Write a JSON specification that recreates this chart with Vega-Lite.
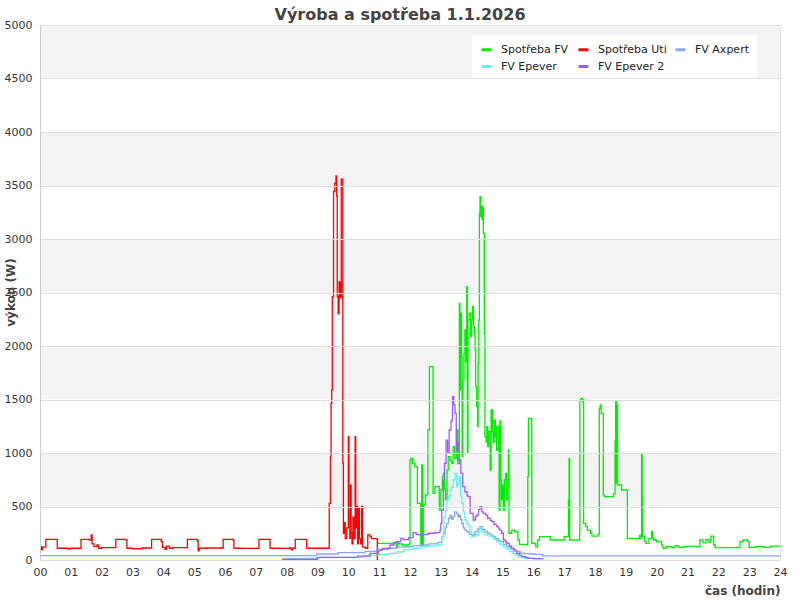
{
"$schema":"https://vega.github.io/schema/vega-lite/v6.json",
"width":740,"height":535,"autosize":"none",
"padding":{"left":40,"top":25,"right":20,"bottom":40},
"background":"white",
"title":{"text":"Výroba a spotřeba 1.1.2026","font":"DejaVu Sans","fontSize":16,"fontWeight":"bold","color":"#444444","anchor":"middle","frame":"group","offset":-4,"dx":-10},
"config":{"view":{"stroke":"#dddddd"},
"axis":{"labelFont":"DejaVu Sans","labelFontSize":11,"labelColor":"#333333","titleFont":"DejaVu Sans","titleFontSize":12,"titleFontWeight":"bold","titleColor":"#444444","ticks":false,"domainColor":"#cccccc","gridColor":"#dddddd"},
"legend":{"labelFont":"DejaVu Sans","labelFontSize":11,"labelColor":"#222222"}},
"datasets":{
"bands":[{"lo":500,"hi":1000},{"lo":1500,"hi":2000},{"lo":2500,"hi":3000},{"lo":3500,"hi":4000},{"lo":4500,"hi":5000}],
"fv":[{"t":10.92,"v":187},{"t":10.95,"v":156},{"t":11.5,"v":150},{"t":11.56,"v":124},{"t":11.6,"v":160},{"t":11.65,"v":150},{"t":11.75,"v":140},{"t":11.97,"v":150},{"t":12.0,"v":935},{"t":12.03,"v":950},{"t":12.08,"v":904},{"t":12.15,"v":872},{"t":12.24,"v":530},{"t":12.33,"v":530},{"t":12.35,"v":140},{"t":12.38,"v":888},{"t":12.41,"v":140},{"t":12.43,"v":514},{"t":12.5,"v":608},{"t":12.58,"v":1215},{"t":12.63,"v":1807},{"t":12.75,"v":623},{"t":12.81,"v":685},{"t":12.95,"v":467},{"t":13.0,"v":654},{"t":13.05,"v":779},{"t":13.08,"v":810},{"t":13.12,"v":660},{"t":13.15,"v":561},{"t":13.2,"v":841},{"t":13.24,"v":966},{"t":13.3,"v":930},{"t":13.35,"v":904},{"t":13.4,"v":1059},{"t":13.45,"v":950},{"t":13.51,"v":1215},{"t":13.55,"v":900},{"t":13.6,"v":2399},{"t":13.62,"v":1589},{"t":13.64,"v":2306},{"t":13.67,"v":1900},{"t":13.69,"v":966},{"t":13.71,"v":1682},{"t":13.75,"v":1932},{"t":13.78,"v":2150},{"t":13.81,"v":1850},{"t":13.84,"v":2554},{"t":13.86,"v":1000},{"t":13.88,"v":2243},{"t":13.92,"v":2306},{"t":13.97,"v":2087},{"t":14.0,"v":2243},{"t":14.03,"v":2368},{"t":14.06,"v":2181},{"t":14.09,"v":2119},{"t":14.11,"v":1963},{"t":14.13,"v":1620},{"t":14.16,"v":1433},{"t":14.19,"v":1246},{"t":14.21,"v":1838},{"t":14.23,"v":2243},{"t":14.25,"v":3240},{"t":14.27,"v":3396},{"t":14.29,"v":3209},{"t":14.32,"v":3303},{"t":14.34,"v":3178},{"t":14.36,"v":3300},{"t":14.38,"v":3053},{"t":14.41,"v":2119},{"t":14.43,"v":1152},{"t":14.47,"v":1100},{"t":14.49,"v":1246},{"t":14.52,"v":1059},{"t":14.55,"v":1200},{"t":14.6,"v":841},{"t":14.63,"v":1402},{"t":14.67,"v":1200},{"t":14.7,"v":1100},{"t":14.73,"v":1308},{"t":14.77,"v":1150},{"t":14.79,"v":1250},{"t":14.81,"v":1028},{"t":14.85,"v":1050},{"t":14.87,"v":1250},{"t":14.89,"v":467},{"t":14.92,"v":1300},{"t":14.94,"v":748},{"t":14.97,"v":561},{"t":15.0,"v":700},{"t":15.03,"v":467},{"t":15.06,"v":748},{"t":15.1,"v":810},{"t":15.13,"v":561},{"t":15.16,"v":654},{"t":15.19,"v":1028},{"t":15.21,"v":250},{"t":15.3,"v":280},{"t":15.4,"v":265},{"t":15.5,"v":187},{"t":15.55,"v":146},{"t":15.8,"v":140},{"t":15.82,"v":779},{"t":15.84,"v":1324},{"t":15.95,"v":156},{"t":16.05,"v":150},{"t":16.08,"v":124},{"t":16.14,"v":187},{"t":16.2,"v":218},{"t":16.5,"v":218},{"t":16.55,"v":187},{"t":16.9,"v":187},{"t":17.0,"v":218},{"t":17.14,"v":561},{"t":17.16,"v":950},{"t":17.18,"v":187},{"t":17.45,"v":187},{"t":17.5,"v":265},{"t":17.51,"v":1495},{"t":17.55,"v":1511},{"t":17.6,"v":1480},{"t":17.63,"v":343},{"t":17.7,"v":311},{"t":17.75,"v":280},{"t":17.85,"v":250},{"t":17.9,"v":224},{"t":18.1,"v":240},{"t":18.14,"v":1418},{"t":18.17,"v":1449},{"t":18.2,"v":1371},{"t":18.27,"v":608},{"t":18.3,"v":592},{"t":18.5,"v":592},{"t":18.6,"v":620},{"t":18.65,"v":1121},{"t":18.67,"v":1480},{"t":18.69,"v":717},{"t":18.71,"v":1450},{"t":18.73,"v":701},{"t":18.86,"v":654},{"t":19.05,"v":203},{"t":19.4,"v":203},{"t":19.45,"v":230},{"t":19.5,"v":203},{"t":19.51,"v":997},{"t":19.53,"v":592},{"t":19.55,"v":220},{"t":19.6,"v":171},{"t":19.65,"v":156},{"t":19.75,"v":200},{"t":19.83,"v":265},{"t":19.86,"v":210},{"t":19.9,"v":187},{"t":20.0,"v":170},{"t":20.16,"v":140},{"t":20.2,"v":109},{"t":20.3,"v":124},{"t":20.5,"v":115},{"t":20.6,"v":135},{"t":20.7,"v":118},{"t":20.9,"v":124},{"t":21.0,"v":130},{"t":21.3,"v":124},{"t":21.4,"v":187},{"t":21.5,"v":160},{"t":21.6,"v":190},{"t":21.7,"v":165},{"t":21.76,"v":224},{"t":21.85,"v":140},{"t":21.9,"v":115},{"t":22.7,"v":171},{"t":22.8,"v":187},{"t":22.95,"v":171},{"t":23.0,"v":118},{"t":23.2,"v":124},{"t":23.5,"v":118},{"t":23.7,"v":130},{"t":24.0,"v":124}],
"uti":[{"t":0,"v":125},{"t":0.05,"v":95},{"t":0.08,"v":120},{"t":0.19,"v":193},{"t":0.56,"v":110},{"t":0.9,"v":105},{"t":1.0,"v":110},{"t":1.33,"v":193},{"t":1.6,"v":185},{"t":1.66,"v":235},{"t":1.69,"v":150},{"t":1.75,"v":125},{"t":1.85,"v":140},{"t":1.9,"v":110},{"t":2.0,"v":115},{"t":2.46,"v":193},{"t":2.78,"v":185},{"t":2.82,"v":110},{"t":3.0,"v":105},{"t":3.3,"v":112},{"t":3.62,"v":193},{"t":3.93,"v":175},{"t":3.97,"v":118},{"t":4.05,"v":100},{"t":4.1,"v":130},{"t":4.2,"v":110},{"t":4.3,"v":115},{"t":4.78,"v":193},{"t":5.1,"v":180},{"t":5.13,"v":85},{"t":5.16,"v":110},{"t":5.4,"v":112},{"t":5.94,"v":193},{"t":6.27,"v":180},{"t":6.29,"v":110},{"t":6.5,"v":108},{"t":7.1,"v":193},{"t":7.46,"v":110},{"t":7.8,"v":108},{"t":8.1,"v":112},{"t":8.15,"v":95},{"t":8.2,"v":110},{"t":8.28,"v":193},{"t":8.65,"v":110},{"t":9.38,"v":530},{"t":9.42,"v":966},{"t":9.44,"v":1465},{"t":9.46,"v":1590},{"t":9.48,"v":2462},{"t":9.52,"v":3444},{"t":9.56,"v":3522},{"t":9.6,"v":3590},{"t":9.62,"v":3400},{"t":9.64,"v":2462},{"t":9.67,"v":2300},{"t":9.7,"v":2600},{"t":9.73,"v":2450},{"t":9.77,"v":3560},{"t":9.82,"v":907},{"t":9.84,"v":250},{"t":9.87,"v":350},{"t":9.9,"v":200},{"t":9.95,"v":300},{"t":10.0,"v":1153},{"t":10.02,"v":400},{"t":10.05,"v":200},{"t":10.07,"v":700},{"t":10.09,"v":250},{"t":10.12,"v":150},{"t":10.15,"v":400},{"t":10.18,"v":200},{"t":10.22,"v":1153},{"t":10.24,"v":300},{"t":10.27,"v":500},{"t":10.3,"v":150},{"t":10.33,"v":480},{"t":10.36,"v":200},{"t":10.4,"v":150},{"t":10.43,"v":500},{"t":10.46,"v":120},{"t":10.55,"v":110},{"t":10.63,"v":234},{"t":10.7,"v":220},{"t":10.75,"v":200},{"t":10.94,"v":0},{"t":10.97,"v":0}],
"ax":[{"t":0,"v":40},{"t":8.97,"v":56},{"t":9.67,"v":68},{"t":10.54,"v":81},{"t":10.92,"v":100},{"t":11.3,"v":110},{"t":11.57,"v":120},{"t":11.82,"v":124},{"t":12.1,"v":135},{"t":12.35,"v":140},{"t":12.6,"v":150},{"t":12.89,"v":165},{"t":13.03,"v":218},{"t":13.08,"v":250},{"t":13.14,"v":300},{"t":13.19,"v":343},{"t":13.25,"v":390},{"t":13.3,"v":420},{"t":13.35,"v":380},{"t":13.4,"v":405},{"t":13.45,"v":450},{"t":13.51,"v":436},{"t":13.56,"v":400},{"t":13.6,"v":420},{"t":13.64,"v":380},{"t":13.68,"v":343},{"t":13.73,"v":300},{"t":13.78,"v":280},{"t":13.84,"v":265},{"t":13.92,"v":240},{"t":14.0,"v":218},{"t":14.05,"v":240},{"t":14.11,"v":265},{"t":14.2,"v":290},{"t":14.27,"v":311},{"t":14.35,"v":285},{"t":14.43,"v":265},{"t":14.52,"v":250},{"t":14.6,"v":234},{"t":14.68,"v":218},{"t":14.76,"v":203},{"t":14.85,"v":185},{"t":14.92,"v":171},{"t":15.03,"v":145},{"t":15.14,"v":124},{"t":15.25,"v":105},{"t":15.35,"v":93},{"t":15.46,"v":78},{"t":15.57,"v":65},{"t":15.7,"v":60},{"t":15.89,"v":56},{"t":16.05,"v":52},{"t":16.2,"v":50},{"t":16.3,"v":38},{"t":24,"v":38}],
"ep":[{"t":8.0,"v":15},{"t":8.65,"v":18},{"t":9.08,"v":25},{"t":10.5,"v":44},{"t":11.0,"v":50},{"t":11.27,"v":56},{"t":11.35,"v":62},{"t":11.55,"v":75},{"t":11.78,"v":87},{"t":11.82,"v":100},{"t":12.1,"v":110},{"t":12.35,"v":124},{"t":12.6,"v":130},{"t":12.89,"v":140},{"t":13.03,"v":218},{"t":13.1,"v":400},{"t":13.14,"v":467},{"t":13.19,"v":561},{"t":13.25,"v":600},{"t":13.3,"v":654},{"t":13.35,"v":680},{"t":13.4,"v":748},{"t":13.46,"v":810},{"t":13.51,"v":685},{"t":13.55,"v":720},{"t":13.6,"v":779},{"t":13.64,"v":600},{"t":13.68,"v":530},{"t":13.73,"v":450},{"t":13.78,"v":374},{"t":13.84,"v":340},{"t":13.89,"v":311},{"t":13.95,"v":260},{"t":14.0,"v":218},{"t":14.08,"v":225},{"t":14.16,"v":234},{"t":14.22,"v":270},{"t":14.27,"v":296},{"t":14.33,"v":260},{"t":14.43,"v":234},{"t":14.52,"v":225},{"t":14.6,"v":218},{"t":14.7,"v":195},{"t":14.81,"v":171},{"t":14.92,"v":145},{"t":15.03,"v":124},{"t":15.14,"v":100},{"t":15.24,"v":78},{"t":15.33,"v":60},{"t":15.41,"v":47},{"t":15.51,"v":25},{"t":15.7,"v":15},{"t":16.0,"v":10},{"t":16.35,"v":8}],
"ep2":[{"t":7.84,"v":7},{"t":9.0,"v":25},{"t":10.3,"v":37},{"t":10.7,"v":62},{"t":10.97,"v":78},{"t":11.0,"v":93},{"t":11.1,"v":109},{"t":11.35,"v":140},{"t":11.47,"v":162},{"t":11.56,"v":171},{"t":11.7,"v":203},{"t":11.78,"v":190},{"t":11.95,"v":210},{"t":12.1,"v":255},{"t":12.2,"v":240},{"t":12.28,"v":234},{"t":12.45,"v":240},{"t":12.6,"v":250},{"t":12.81,"v":255},{"t":12.97,"v":280},{"t":13.0,"v":343},{"t":13.03,"v":467},{"t":13.08,"v":748},{"t":13.12,"v":904},{"t":13.17,"v":1121},{"t":13.22,"v":1000},{"t":13.27,"v":1215},{"t":13.33,"v":1300},{"t":13.38,"v":1526},{"t":13.42,"v":1450},{"t":13.46,"v":1371},{"t":13.5,"v":1028},{"t":13.55,"v":1100},{"t":13.6,"v":935},{"t":13.65,"v":810},{"t":13.71,"v":685},{"t":13.78,"v":638},{"t":13.85,"v":600},{"t":13.89,"v":592},{"t":13.95,"v":436},{"t":14.05,"v":374},{"t":14.12,"v":405},{"t":14.16,"v":420},{"t":14.22,"v":470},{"t":14.27,"v":498},{"t":14.33,"v":450},{"t":14.38,"v":436},{"t":14.45,"v":420},{"t":14.52,"v":390},{"t":14.6,"v":370},{"t":14.65,"v":358},{"t":14.72,"v":330},{"t":14.81,"v":311},{"t":14.88,"v":290},{"t":14.92,"v":280},{"t":14.97,"v":250},{"t":15.03,"v":187},{"t":15.1,"v":170},{"t":15.14,"v":156},{"t":15.22,"v":130},{"t":15.3,"v":109},{"t":15.38,"v":85},{"t":15.46,"v":62},{"t":15.55,"v":45},{"t":15.62,"v":31},{"t":15.75,"v":22},{"t":15.84,"v":16},{"t":16.0,"v":12},{"t":16.3,"v":10}]
},
"layer":[
{"data":{"name":"bands"},"mark":{"type":"rect","color":"#f3f3f3"},
 "encoding":{"y":{"field":"lo","type":"quantitative","title":"výkon (W)","scale":{"domain":[0,5000],"nice":false}},"y2":{"field":"hi"}}},
{"encoding":{
  "x":{"field":"t","type":"quantitative","title":"čas (hodin)","scale":{"domain":[0,24],"nice":false},
       "axis":{"values":[0,1,2,3,4,5,6,7,8,9,10,11,12,13,14,15,16,17,18,19,20,21,22,23,24],"format":"02d","grid":false,"labelPadding":6,"labelFlush":false,"titleAnchor":"end","titleAlign":"right","titleX":740,"titleY":30,"titleBaseline":"middle"}},
  "y":{"field":"v","type":"quantitative","title":"výkon (W)","scale":{"domain":[0,5000],"nice":false},
       "axis":{"values":[0,500,1000,1500,2000,2500,3000,3500,4000,4500,5000],"format":"d","grid":true,"labelPadding":8,"zindex":1,"titleX":-30,"titleY":267,"titleBaseline":"middle"}}},
 "layer":[
 {"data":{"name":"fv"},"mark":{"type":"line","interpolate":"step-after","strokeWidth":1.3},
  "encoding":{"color":{"datum":"Spotřeba FV","type":"nominal","title":null,
   "scale":{"domain":["Spotřeba FV","Spotřeba Uti","FV Axpert","FV Epever","FV Epever 2"],"range":["#00ee00","#ff0000","#86a8e7","#5ef5ee","#9b5cf5"]},
   "legend":{"orient":"none","legendX":432,"legendY":10,"columns":3,"direction":"horizontal","gridAlign":"all","fillColor":"white","padding":8,"symbolType":"stroke","symbolStrokeWidth":3,"symbolSize":100,"labelOffset":8,"columnPadding":2,"rowPadding":4}}}},
 {"data":{"name":"uti"},"mark":{"type":"line","interpolate":"step-after","strokeWidth":1.3},"encoding":{"color":{"datum":"Spotřeba Uti","type":"nominal"}}},
 {"data":{"name":"ax"},"mark":{"type":"line","interpolate":"step-after","strokeWidth":1.3},"encoding":{"color":{"datum":"FV Axpert","type":"nominal"}}},
 {"data":{"name":"ep"},"mark":{"type":"line","interpolate":"step-after","strokeWidth":1.3},"encoding":{"color":{"datum":"FV Epever","type":"nominal"}}},
 {"data":{"name":"ep2"},"mark":{"type":"line","interpolate":"step-after","strokeWidth":1.3},"encoding":{"color":{"datum":"FV Epever 2","type":"nominal"}}}
 ]}
]
}
